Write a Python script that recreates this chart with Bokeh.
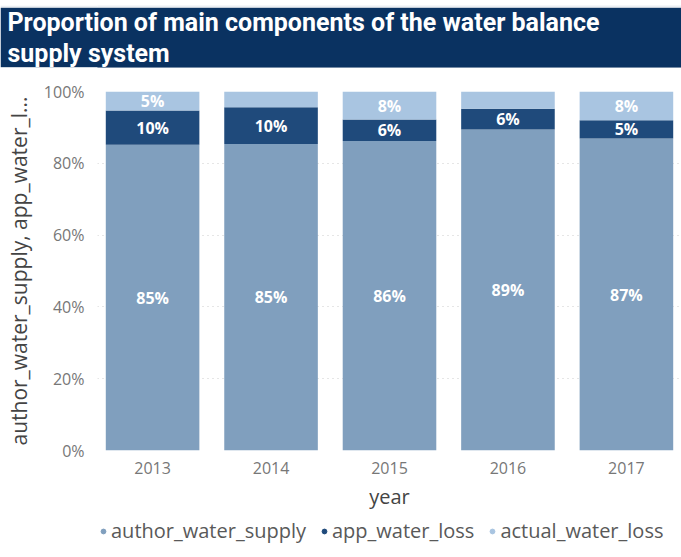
from bokeh.plotting import figure
from bokeh.layouts import column
from bokeh.models import (ColumnDataSource, FactorRange, Range1d, Title,
                          Legend, LegendItem, FixedTicker)
from bokeh.core.properties import value
from bokeh.embed import file_html
from bokeh.resources import INLINE

# ---- data ----
years = ["2013", "2014", "2015", "2016", "2017"]
author_water_supply = [85.2, 85.4, 86.2, 89.4, 86.9]
app_water_loss = [9.5, 10.2, 6.0, 5.8, 5.1]
actual_water_loss = [5.3, 4.4, 7.8, 4.8, 8.0]
series = ["author_water_supply", "app_water_loss", "actual_water_loss"]
colors = ["#809fbe", "#1f4a7b", "#a9c5e1"]
y_ticks = [0, 20, 40, 60, 80, 100]
y_tick_labels = ["0%", "20%", "40%", "60%", "80%", "100%"]
title_lines = ["Proportion of main components of the water balance",
               "supply system"]

NAVY = "#0a3261"
EDGE = "#eceff3"
FONT = "Open Sans"
W = 681
LEFT = 97


def bare(height, fill):
    f = figure(width=W, height=height, output_backend="svg", toolbar_location=None,
               x_range=Range1d(0, 1), y_range=Range1d(0, 1),
               x_axis_location=None, y_axis_location=None,
               min_border=0, min_border_left=LEFT, min_border_right=0,
               outline_line_color=None,
               background_fill_color=fill, border_fill_color=fill)
    f.grid.visible = False
    return f


# ---- thin top strip ----
strip = bare(7, EDGE)

# ---- header (navy band with two title lines) ----
header = bare(60, NAVY)


def style_title(t):
    t.text_font = "Roboto"
    t.text_font_style = "bold"
    t.text_font_size = "25px"
    t.text_line_height = 0.88
    t.text_color = "white"
    t.align = "left"
    t.offset = -(LEFT - 7)
    t.standoff = 0


header.title.text = title_lines[0]
style_title(header.title)
t2 = Title(text=title_lines[1])
style_title(t2)
header.add_layout(t2, "above")

# ---- main chart ----
data = {"year": years,
        "author_water_supply": author_water_supply,
        "app_water_loss": app_water_loss,
        "actual_water_loss": actual_water_loss}
src = ColumnDataSource(data)

p = figure(width=W, height=445, output_backend="svg", toolbar_location=None,
           x_range=FactorRange(*years, range_padding=-0.035, range_padding_units="absolute"),
           y_range=Range1d(0, 100),
           min_border_left=LEFT, min_border_right=0, min_border_top=24, min_border_bottom=62,
           outline_line_color=None, background_fill_color="white", border_fill_color="white")

p.vbar_stack(series, x="year", width=0.79, source=src, color=colors, line_color=None)

# data labels
lx, ly, lt = [], [], []
for i, yr in enumerate(years):
    base = 0.0
    for s in series:
        v = data[s][i]
        if v >= 5.0:
            lx.append(yr)
            ly.append(base + v / 2)
            lt.append(f"{round(v):.0f}%")
        base += v
p.text(x="year", y="y", text="t", source=ColumnDataSource(dict(year=lx, y=ly, t=lt)),
       text_color="white", text_font=value(FONT), text_font_style="bold",
       text_font_size="16px", text_align="center", text_baseline="middle")

# axes
p.yaxis.ticker = FixedTicker(ticks=y_ticks)
p.yaxis.major_label_overrides = {t: l for t, l in zip(y_ticks, y_tick_labels)}
for ax in (p.xaxis[0], p.yaxis[0]):
    ax.axis_line_color = None
    ax.major_tick_line_color = None
    ax.minor_tick_line_color = None
    ax.major_label_text_font = FONT
    ax.major_label_text_font_size = "16px"
    ax.major_label_text_color = "#777777"
    ax.axis_label_text_font = FONT
    ax.axis_label_text_font_style = "normal"
    ax.axis_label_text_color = "#444444"
p.yaxis.major_label_standoff = 7
p.xaxis.major_label_standoff = 5
p.yaxis.axis_label = "author_water_supply, app_water_l..."
p.yaxis.axis_label_text_font_size = "21px"
p.yaxis.axis_label_standoff = 8
p.xaxis.axis_label = "year"
p.xaxis.axis_label_text_font_size = "20px"
p.xaxis.axis_label_standoff = 6

p.xgrid.grid_line_color = None
p.ygrid.grid_line_color = "#cccccc"
p.ygrid.grid_line_dash = "1 4"
p.ygrid.grid_line_width = 1

# ---- legend strip (circle markers) ----
leg = bare(45, "white")
items = []
for s, c in zip(series, colors):
    r = leg.scatter(x=[-10], y=[-10], marker="circle", size=12,
                    fill_color=c, line_color=c)
    items.append(LegendItem(label=s, renderers=[r]))
legend = Legend(items=items, orientation="horizontal", location=(0, 13),
                border_line_color=None, background_fill_alpha=0,
                padding=0, margin=0, spacing=12, label_standoff=2,
                glyph_width=12, glyph_height=22, label_height=22,
                label_text_font=FONT, label_text_font_size="20px",
                label_text_color="#595959")
leg.add_layout(legend, "center")

layout = column(strip, header, p, leg, spacing=0)
open("out.html", "w").write(file_html(layout, INLINE))
